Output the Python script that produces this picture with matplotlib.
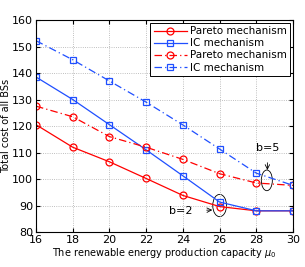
import numpy as np
import matplotlib.pyplot as plt
from matplotlib.patches import Ellipse

capacity = [16, 18, 20, 22, 24, 26, 28, 30]
pareto_b2 = [120.5, 112.0, 106.5, 100.2, 93.8, 89.6, 88.0, 88.0]
ic_b2 = [138.5, 130.0, 120.5, 111.0, 101.2, 91.3, 88.0, 88.0]
pareto_b5 = [127.5, 123.5, 116.0, 112.0, 107.4, 102.0, 98.5, 97.6]
ic_b5 = [152.2, 145.0, 137.0, 129.0, 120.4, 111.3, 102.2, 97.6]

fig = plt.figure(figsize=(3.05, 2.67), dpi=100)
ax = fig.add_axes([0.118, 0.131, 0.843, 0.794])

mk = dict(markersize=5, markerfacecolor='none', markeredgewidth=0.9, linewidth=0.9)
dashdot = (0, (6, 2.5, 1, 2.5))
ax.plot(capacity, pareto_b2, '-o', color='red', label='Pareto mechanism', **mk)
ax.plot(capacity, ic_b2, '-s', color='#1f4fff', label='IC mechanism', **mk)
ax.plot(capacity, pareto_b5, marker='o', linestyle=dashdot, color='red', label='Pareto mechanism', **mk)
ax.plot(capacity, ic_b5, marker='s', linestyle=dashdot, color='#1f4fff', label='IC mechanism', **mk)

ax.set_xlim(16, 30)
ax.set_ylim(80, 160)
ax.set_xticks(np.arange(16, 31, 2))
ax.set_yticks(np.arange(80, 161, 10))
ax.grid(True, linestyle=':', color='#aaaaaa', linewidth=0.6)
ax.tick_params(direction='in', top=True, right=True, labelsize=8, length=3, pad=2)
ax.set_xlabel('The renewable energy production capacity $\\mu_0$', fontsize=7, labelpad=1)
ax.set_ylabel('Total cost of all BSs', fontsize=7, labelpad=1)

# annotations
ax.add_patch(Ellipse((26.0, 90.0), 0.75, 8.4, fill=False, edgecolor='black', linewidth=0.6))
ax.add_patch(Ellipse((28.57, 99.5), 0.6, 7.8, fill=False, edgecolor='black', linewidth=0.6))
ax.annotate('b=2', xy=(25.6, 88.3), xytext=(23.9, 88.0), fontsize=8, ha='center', va='center',
            arrowprops=dict(arrowstyle='->', color='black', linewidth=0.6, shrinkA=8, shrinkB=0))
ax.annotate('b=5', xy=(28.6, 103.4), xytext=(28.6, 111.7), fontsize=8, ha='center', va='center',
            arrowprops=dict(arrowstyle='->', color='black', linewidth=0.6, shrinkA=5, shrinkB=0))

leg = ax.legend(loc='upper right', fontsize=7.5, framealpha=1, fancybox=False, numpoints=1,
                edgecolor='black', borderpad=0.3, labelspacing=0.2, handlelength=3.2,
                handletextpad=0.3, borderaxespad=0.3)
leg.get_frame().set_linewidth(0.7)

fig.savefig('out.png', dpi=100)
